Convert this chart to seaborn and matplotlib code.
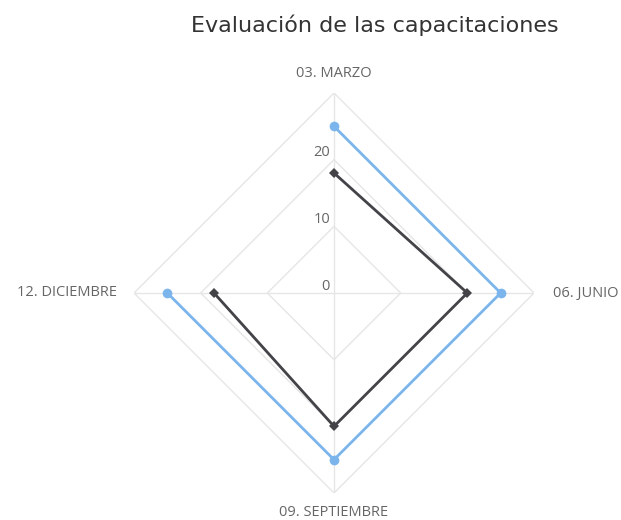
import numpy as np
import pandas as pd
import seaborn as sns
import matplotlib.pyplot as plt

# data
categories = ['03. MARZO', '06. JUNIO', '09. SEPTIEMBRE', '12. DICIEMBRE']
serie_azul = [25, 25, 25, 25]
serie_negra = [18, 20, 20, 18]
radial_ticks = [0, 10, 20, 30]

sns.set_style("white")
plt.rcParams['font.family'] = ['DejaVu Sans']

fig = plt.figure(figsize=(6.21, 5.2), dpi=100)
ax = fig.add_axes([134 / 621, 27 / 520, 400 / 621, 400 / 520], projection='polar')
ax.set_theta_offset(np.pi / 2)
ax.set_theta_direction(-1)
ax.set_ylim(0, 30)
ax.grid(False)
ax.spines['polar'].set_visible(False)
ax.set_xticks([])
ax.set_yticks([])
ax.patch.set_alpha(0)

theta = np.linspace(0, 2 * np.pi, len(categories), endpoint=False)
theta_closed = np.append(theta, theta[0])

# polygon grid
grid_col = '#e6e6e6'
for r in radial_ticks[1:]:
    ax.plot(theta_closed, [r] * len(theta_closed), color=grid_col, lw=1, zorder=1)
for t in theta:
    ax.plot([t, t], [0, radial_ticks[-1]], color=grid_col, lw=1, zorder=1)

# series
df = pd.DataFrame({
    'theta': np.concatenate([theta_closed, theta_closed]),
    'valor': serie_azul + serie_azul[:1] + serie_negra + serie_negra[:1],
    'serie': ['azul'] * 5 + ['negra'] * 5,
})
sns.lineplot(data=df[df.serie == 'azul'], x='theta', y='valor', ax=ax, sort=False,
             color='#7cb5ec', lw=2, marker='o', markersize=7, markeredgewidth=0, zorder=3)
sns.lineplot(data=df[df.serie == 'negra'], x='theta', y='valor', ax=ax, sort=False,
             color='#434348', lw=2, marker='D', markersize=5.5, markeredgewidth=0, zorder=4)
ax.set_xlabel('')
ax.set_ylabel('')
ax.set_ylim(0, 30)

# category labels
offsets = [(0, 20, 'center', 'center'), (19, 0, 'left', 'center'),
           (0, -20, 'center', 'center'), (-17, 0, 'right', 'center')]
for t, lab, (dx, dy, ha, va) in zip(theta, categories, offsets):
    ax.annotate(lab, xy=(t, radial_ticks[-1]), xytext=(dx, dy), textcoords='offset pixels',
                ha=ha, va=va, fontsize=10.5, color='#666666', family=['Open Sans', 'DejaVu Sans'])

# radial labels
for r in radial_ticks[:-1]:
    ax.annotate(str(r), xy=(0, r), xytext=(-4, 7), textcoords='offset pixels',
                ha='right', va='center', fontsize=10.5, color='#666666',
                family=['Open Sans', 'DejaVu Sans'])

fig.text(375 / 621, 1 - 25 / 520, 'Evaluación de las capacitaciones', ha='center', va='center',
         fontsize=16, color='#333333')

fig.savefig('out.png', dpi=100)
